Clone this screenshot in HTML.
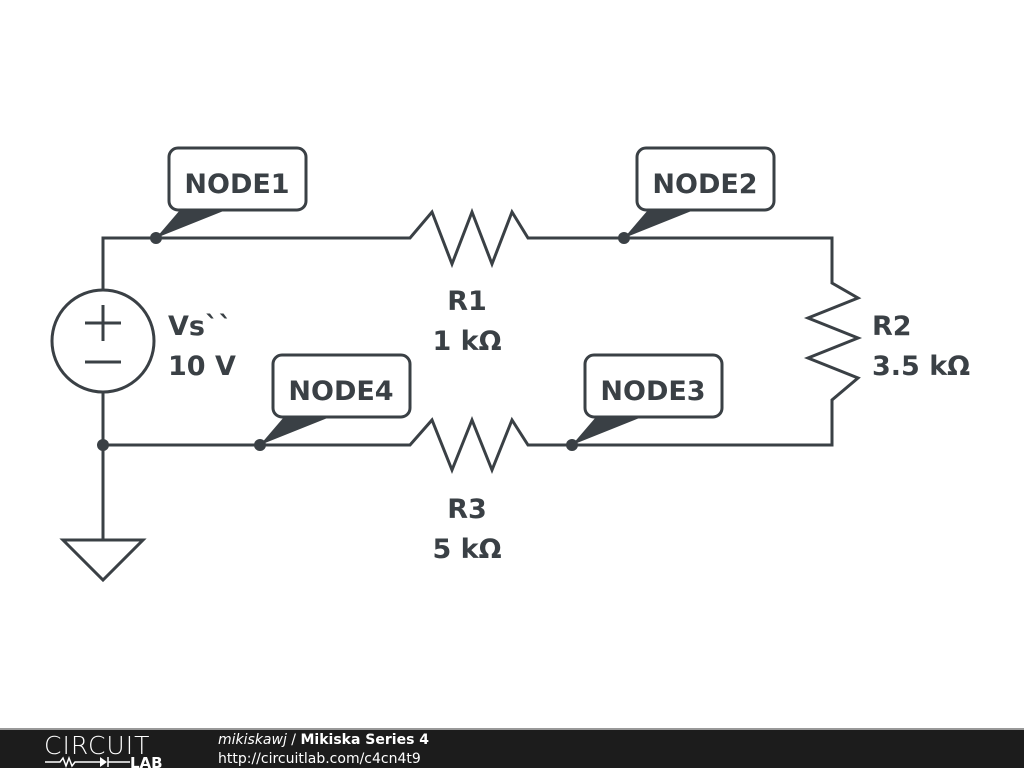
<!DOCTYPE html>
<html><head><meta charset="utf-8"><style>
html,body{margin:0;padding:0;background:#fff;width:1024px;height:768px;overflow:hidden}
svg{display:block}
</style></head><body>
<svg width="1024" height="768" viewBox="0 0 1024 768" xmlns="http://www.w3.org/2000/svg" font-family="'DejaVu Sans','Liberation Sans',sans-serif">
<g stroke="#3a4045" stroke-width="3" fill="none" stroke-linejoin="miter">
<polyline points="103,290 103,238 410,238 432,212 452,264 472,212 492,264 512,212 528,238 832,238 832,283 858,298 808,318 858,338 808,358 858,378 832,400 832,445 528,445 512,420 492,470 472,420 452,470 432,420 410,445 103,445"/>
<line x1="103" y1="392" x2="103" y2="540"/>
<circle cx="103" cy="341" r="51"/>
<line x1="85" y1="323" x2="121" y2="323"/><line x1="103" y1="305" x2="103" y2="341"/>
<line x1="85" y1="362" x2="121" y2="362"/>
<polygon points="63,540 143,540 103,580"/>
<rect x="169" y="148" width="137" height="62" rx="9" fill="#fff"/>
<rect x="637" y="148" width="137" height="62" rx="9" fill="#fff"/>
<rect x="273" y="355" width="137" height="62" rx="9" fill="#fff"/>
<rect x="585" y="355" width="137" height="62" rx="9" fill="#fff"/>
</g>
<g fill="#3a4045">
<polygon points="156,238 180,210 226,210"/>
<polygon points="624,238 648,210 694,210"/>
<polygon points="260,445 284,417 330,417"/>
<polygon points="572,445 596,417 642,417"/>
<circle cx="156" cy="238" r="6"/><circle cx="624" cy="238" r="6"/>
<circle cx="260" cy="445" r="6"/><circle cx="572" cy="445" r="6"/>
<circle cx="103" cy="445" r="6"/>
<g font-weight="bold" font-size="27" text-anchor="middle">
<text x="237" y="193">NODE1</text>
<text x="705" y="193">NODE2</text>
<text x="341" y="400">NODE4</text>
<text x="653" y="400">NODE3</text>
<text x="467" y="310">R1</text>
<text x="467" y="350">1 kΩ</text>
<text x="467" y="518">R3</text>
<text x="467" y="558">5 kΩ</text>
</g>
<g font-weight="bold" font-size="27">
<text x="168" y="335">Vs``</text>
<text x="168" y="375">10 V</text>
<text x="872" y="335">R2</text>
<text x="872" y="375">3.5 kΩ</text>
</g>
</g>
<rect x="0" y="728" width="1024" height="2" fill="#999"/>
<rect x="0" y="730" width="1024" height="38" fill="#1c1c1c"/>
<text x="44" y="754" fill="#fff" font-size="25" font-weight="200" style="letter-spacing:1px">CIRCUIT</text>
<g stroke="#fff" stroke-width="1.5" fill="none"><polyline points="45,762 60,762 63,758 66,766 69,758 72,766 75,762 100,762"/><line x1="108" y1="762" x2="130" y2="762"/><line x1="108" y1="757" x2="108" y2="767"/></g>
<polygon points="100,757 100,767 107,762" fill="#fff"/>
<text x="130" y="768" fill="#fff" font-size="15" font-weight="bold">LAB</text>
<text x="218" y="744" fill="#fff" font-size="14"><tspan font-style="italic">mikiskawj</tspan> / <tspan font-weight="bold">Mikiska Series 4</tspan></text>
<text x="218" y="763" fill="#fff" font-size="14">http://circuitlab.com/c4cn4t9</text>
</svg>
</body></html>
